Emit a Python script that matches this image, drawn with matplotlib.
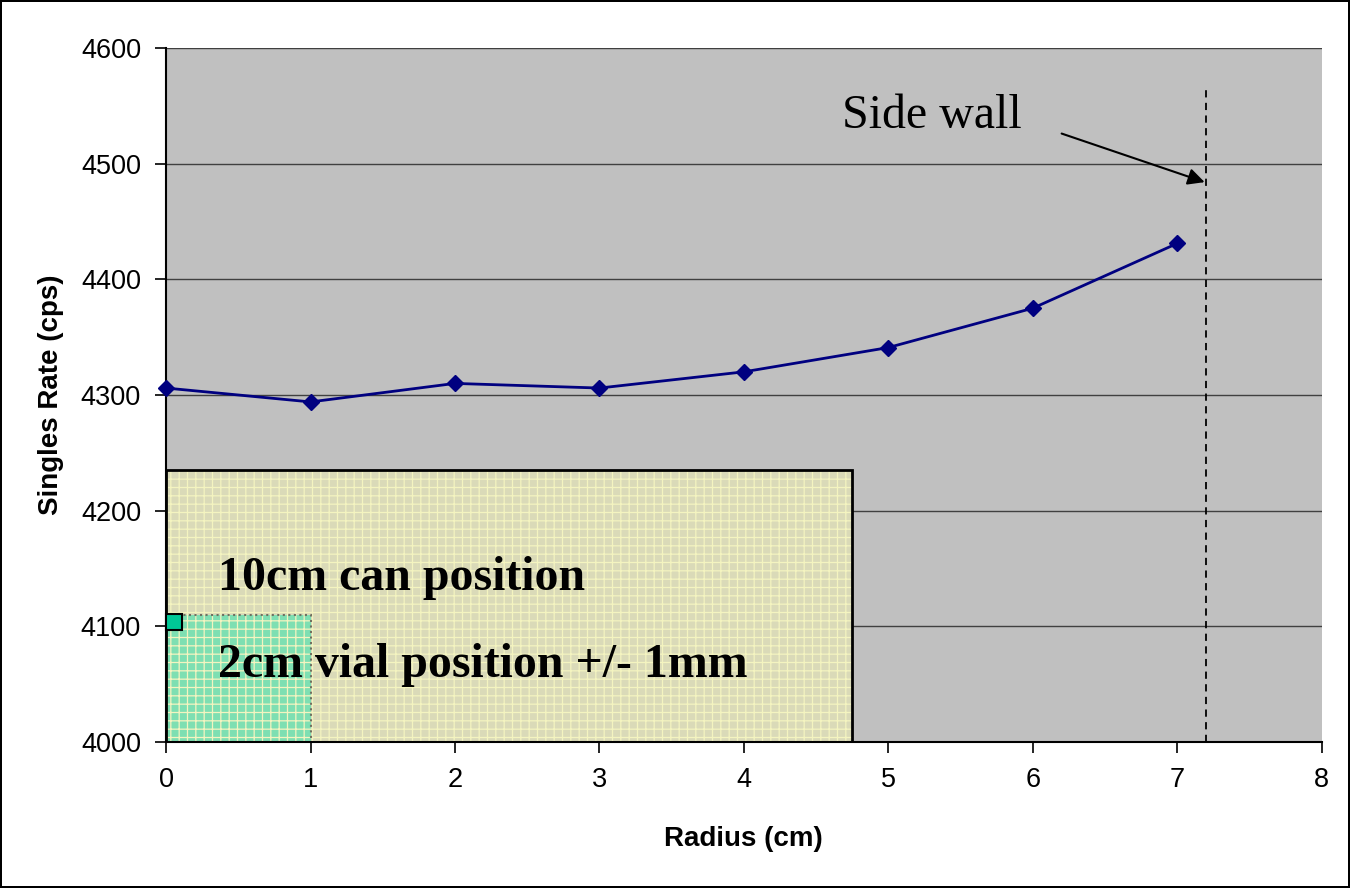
import numpy as np
import matplotlib
matplotlib.use("Agg")
import matplotlib.pyplot as plt
from matplotlib.patches import Rectangle

# data
radius = [0, 1, 2, 3, 4, 5, 6, 7]
singles = [4306, 4294, 4310, 4306, 4320, 4341, 4375, 4431]

can_box = (0, 4000, 4.75, 235)      # x, y, width, height
vial_box = (0, 4000, 1.0, 110)
vial_mark = (0.055, 4104)
side_wall_x = 7.2
side_wall_top = 4568

plt.rcParams['font.family'] = ['Liberation Sans', 'DejaVu Sans']
plt.rcParams['hatch.linewidth'] = 0.9

fig = plt.figure(figsize=(13.5, 8.88), dpi=100)
fig.patch.set_edgecolor('black')
fig.patch.set_linewidth(1.5)
ax = fig.add_axes([0.123, 0.1644, 0.856, 0.7816])
ax.set_facecolor('#C0C0C0')

ax.set_xlim(0, 8)
ax.set_ylim(4000, 4600)
ax.set_xticks(range(0, 9))
ax.set_yticks(range(4000, 4601, 100))
ax.yaxis.grid(True, color='#404040', linewidth=1.0)
ax.set_axisbelow(True)
for s in ['top', 'right']:
    ax.spines[s].set_visible(False)
ax.spines['left'].set_linewidth(1.5)
ax.spines['bottom'].set_linewidth(1.5)
ax.tick_params(axis='both', direction='out', length=8, width=1.2, labelsize=19.5, pad=10)

# shaded boxes
for (x0, y0, w, h), fc in [(can_box, '#DADAB8'), (vial_box, '#7EDFB2')]:
    ax.add_patch(Rectangle((x0, y0), w, h, facecolor=fc, edgecolor='#F4F4C0',
                           hatch='++', linewidth=0, zorder=1))
ax.add_patch(Rectangle(can_box[:2], can_box[2], can_box[3], fill=False,
                       edgecolor='black', linewidth=2, zorder=2))
ax.add_patch(Rectangle(vial_box[:2], vial_box[2], vial_box[3], fill=False,
                       edgecolor='#707060', linewidth=1.5, linestyle=':', zorder=2))
ax.plot([vial_mark[0]], [vial_mark[1]], marker='s', markersize=11,
        markerfacecolor='#00C896', markeredgecolor='black', markeredgewidth=1.5,
        clip_on=False, zorder=5)

ax.text(0.36, 4131, '10cm can position', family='Liberation Serif',
        fontweight='bold', fontsize=34.5, zorder=4)
ax.text(0.36, 4056, '2cm vial position +/- 1mm', family='Liberation Serif',
        fontweight='bold', fontsize=34.5, zorder=4)

# data series
ax.plot(radius, singles, color='#000080', linewidth=2, marker='D',
        markersize=8.5, zorder=4, clip_on=False)

# side wall
ax.plot([side_wall_x, side_wall_x], [4000, side_wall_top], color='black',
        linestyle=(0, (4, 3)), linewidth=1.3, zorder=3)
ax.text(4.68, 4531, 'Side wall', family='Liberation Serif', fontsize=34.5, zorder=4)
ax.annotate('', xy=(7.19, 4484), xytext=(6.2, 4526),
            arrowprops=dict(arrowstyle='-|>', color='black', lw=1.5,
                            mutation_scale=25, shrinkA=0, shrinkB=0), zorder=4)

ax.set_xlabel('Radius (cm)', fontsize=20, fontweight='bold', labelpad=24)
ax.set_ylabel('Singles Rate (cps)', fontsize=20, fontweight='bold', labelpad=12)

fig.savefig('out.png', dpi=100, edgecolor=fig.get_edgecolor())
